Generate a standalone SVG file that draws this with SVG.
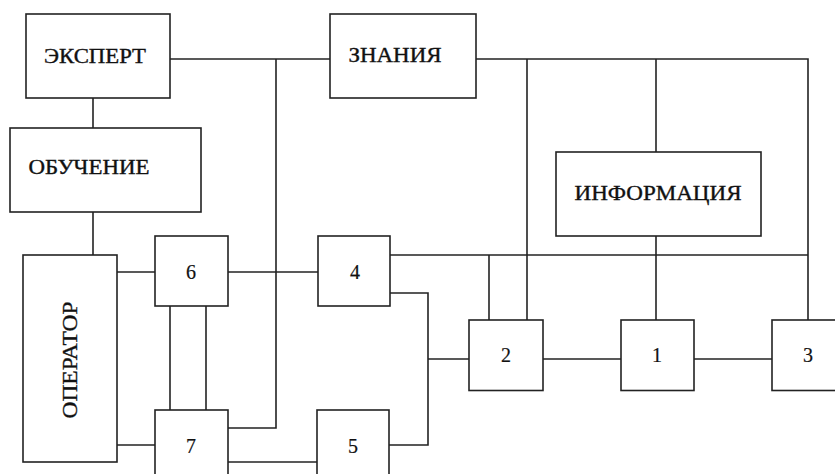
<svg xmlns="http://www.w3.org/2000/svg" width="835" height="474" viewBox="0 0 835 474">
<style>
.box{fill:#fff;stroke:#222;stroke-width:1.6}
.ln{fill:none;stroke:#222;stroke-width:1.6}
.t{font-family:"Liberation Serif","Times New Roman",serif;font-size:20px;fill:#111;stroke:#111;stroke-width:0.35;text-anchor:middle}
.n{font-family:"Liberation Serif","Times New Roman",serif;font-size:20px;fill:#111;stroke:#111;stroke-width:0.2;text-anchor:middle}
</style>
<rect width="835" height="474" fill="#fff"/>
<g id="connectors">
<path class="ln" d="M170 59H330"/>
<path class="ln" d="M476 59H808V320"/>
<path class="ln" d="M656 59V152"/>
<path class="ln" d="M527 59V320"/>
<path class="ln" d="M93 98V128"/>
<path class="ln" d="M93 212V255"/>
<path class="ln" d="M117 272H155"/>
<path class="ln" d="M117 445H155"/>
<path class="ln" d="M170 306V410"/>
<path class="ln" d="M206 306V410"/>
<path class="ln" d="M228 272H318"/>
<path class="ln" d="M276 59V428H228"/>
<path class="ln" d="M228 462H317"/>
<path class="ln" d="M390 255H808"/>
<path class="ln" d="M489 255V320"/>
<path class="ln" d="M656 236V320"/>
<path class="ln" d="M390 293H428V445H389"/>
<path class="ln" d="M428 359H469"/>
<path class="ln" d="M543 359H621"/>
<path class="ln" d="M694 359H772"/>
</g>
<g id="expert"><rect class="box" x="26" y="14" width="144" height="84"/><text class="t" x="95" y="63" textLength="102" lengthAdjust="spacingAndGlyphs">ЭКСПЕРТ</text></g>
<g id="knowledge"><rect class="box" x="330" y="14" width="146" height="84"/><text class="t" x="395" y="62" textLength="93" lengthAdjust="spacingAndGlyphs">ЗНАНИЯ</text></g>
<g id="training"><rect class="box" x="10" y="128" width="191" height="84"/><text class="t" x="89" y="174" textLength="121" lengthAdjust="spacingAndGlyphs">ОБУЧЕНИЕ</text></g>
<g id="information"><rect class="box" x="556" y="152" width="205" height="84"/><text class="t" x="658" y="200" textLength="167" lengthAdjust="spacingAndGlyphs">ИНФОРМАЦИЯ</text></g>
<g id="operator"><rect class="box" x="23" y="255" width="94" height="207"/><text class="t" transform="translate(77 360) rotate(-90)" x="0" y="0" textLength="117" lengthAdjust="spacingAndGlyphs">ОПЕРАТОР</text></g>
<g id="n6"><rect class="box" x="155" y="236" width="73" height="70"/><text class="n" x="191" y="279">6</text></g>
<g id="n7"><rect class="box" x="155" y="410" width="73" height="80"/><text class="n" x="191" y="453">7</text></g>
<g id="n4"><rect class="box" x="318" y="236" width="72" height="70"/><text class="n" x="355" y="279">4</text></g>
<g id="n5"><rect class="box" x="317" y="410" width="72" height="80"/><text class="n" x="353" y="453">5</text></g>
<g id="n2"><rect class="box" x="469" y="320" width="74" height="70.5"/><text class="n" x="506" y="362">2</text></g>
<g id="n1"><rect class="box" x="621" y="320" width="73" height="70.5"/><text class="n" x="657" y="362">1</text></g>
<g id="n3"><rect class="box" x="772" y="320" width="80" height="70.5"/><text class="n" x="808" y="362">3</text></g>
</svg>
